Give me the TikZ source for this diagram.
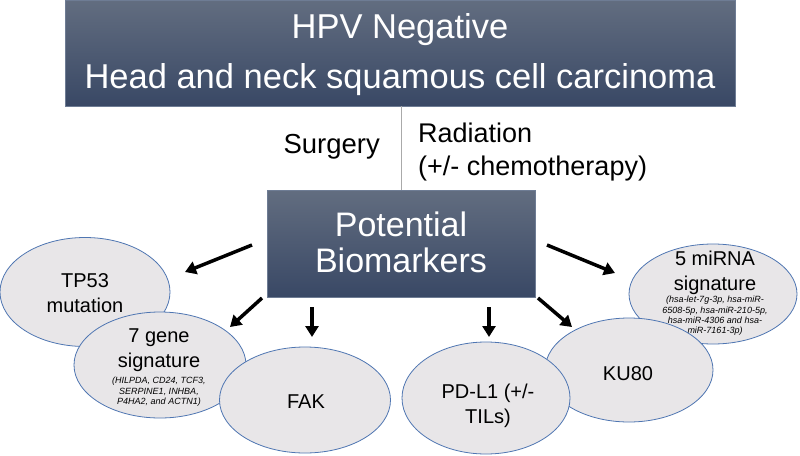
\documentclass[tikz,border=0pt]{standalone}
\usepackage{fontspec}
\setmainfont{Liberation Sans}
\usetikzlibrary{arrows.meta,shapes.geometric,shadings}
\definecolor{boxtop}{RGB}{98,109,128}
\definecolor{boxbot}{RGB}{57,72,101}
\definecolor{boxline}{RGB}{110,124,148}
\definecolor{ellfill}{RGB}{232,230,232}
\definecolor{ellline}{RGB}{79,118,178}
\definecolor{vline}{RGB}{170,170,170}
\tikzset{
  darkbox/.style={rectangle, inner sep=0pt, top color=boxtop, bottom color=boxbot, draw=boxline, line width=0.6pt},
  bio/.style={ellipse, inner sep=0pt, fill=ellfill, draw=ellline, line width=0.8pt},
  whitetxt/.style={text=white, inner sep=0pt, align=center},
  blacktxt/.style={text=black, inner sep=0pt, align=center},
  bigfont/.style={font=\fontsize{20}{25}\selectfont},
  smallfont/.style={font=\fontsize{9}{10.4}\selectfont\itshape},
  arr/.style={line width=3.5pt, -{Triangle[length=11pt,width=13pt]}}
}
\begin{document}
\begin{tikzpicture}[x=1pt,y=-1pt]
\useasboundingbox[fill=white] (0,0) rectangle (800,455);
% boxes
\node[darkbox, minimum width=670pt, minimum height=106pt] (top) at (400,53) {};
\node[whitetxt, font=\fontsize{34.5}{50}\selectfont] (toptxt) at (400,54.5) {HPV Negative\\Head and neck squamous cell carcinoma};
\node[darkbox, minimum width=268pt, minimum height=107pt] (pb) at (401,243.5) {};
\node[whitetxt, font=\fontsize{34}{36}\selectfont] (pbtxt) at (401,242) {Potential\\Biomarkers};
\draw[vline, line width=0.8pt] (pb.north |- top.south) -- (pb.north);
\node[blacktxt, anchor=base east, font=\fontsize{27.5}{33}\selectfont] (surg) at (380,153) {Surgery};
\node[blacktxt, anchor=west, align=left, font=\fontsize{27}{33}\selectfont] (rad) at (418,152) {Radiation\\(+/- chemotherapy)};
% left ellipses
\node[bio, minimum width=170pt, minimum height=109pt] (tp53) at (85,292) {};
\node[blacktxt, bigfont] (tp53t) at (85,293.4) {TP53\\mutation};
\node[bio, minimum width=172pt, minimum height=106pt] (gene) at (160,365) {};
\node[blacktxt, bigfont] (genet) at (159,350.5) {7 gene\\signature};
\node[blacktxt, smallfont] (genes) at (159,392) {(HILPDA, CD24, TCF3,\\SERPINE1, INHBA,\\P4HA2, and ACTN1)};
\node[bio, minimum width=171pt, minimum height=106pt] (fak) at (305,400) {};
\node[blacktxt, bigfont, anchor=base] (fakt) at (306,408) {FAK};
% right ellipses
\node[bio, minimum width=168pt, minimum height=100pt] (mir) at (713,294) {};
\node[blacktxt, bigfont] (mirt) at (715,272.5) {5 miRNA\\signature};
\node[blacktxt, smallfont] (mirs) at (715,316) {(hsa-let-7g-3p, hsa-miR-\\6508-5p, hsa-miR-210-5p,\\hsa-miR-4306 and hsa-\\miR-7161-3p)};
\node[bio, minimum width=168pt, minimum height=104pt] (ku) at (629,370) {};
\node[blacktxt, bigfont, anchor=base] (kut) at (628,380) {KU80};
\node[bio, minimum width=168pt, minimum height=112pt] (pd) at (486,398) {};
\node[blacktxt, bigfont] (pdt) at (488,406) {PD-L1 (+/-\\TILs)};
% arrows
\coordinate (a1s) at (252,245); \coordinate (a1e) at (185,272);
\coordinate (a2s) at (262,298); \coordinate (a2e) at (230,327);
\coordinate (a3s) at (312,307); \coordinate (a3e) at (312,337);
\coordinate (a4s) at (489,307); \coordinate (a4e) at (489,337);
\coordinate (a5s) at (538,298); \coordinate (a5e) at (572,327);
\coordinate (a6s) at (547,245); \coordinate (a6e) at (615,273);
\draw[arr] (a1s) -- (a1e);
\draw[arr] (a2s) -- (a2e);
\draw[arr] (a3s) -- (a3e);
\draw[arr] (a4s) -- (a4e);
\draw[arr] (a5s) -- (a5e);
\draw[arr] (a6s) -- (a6e);
\end{tikzpicture}
\end{document}
